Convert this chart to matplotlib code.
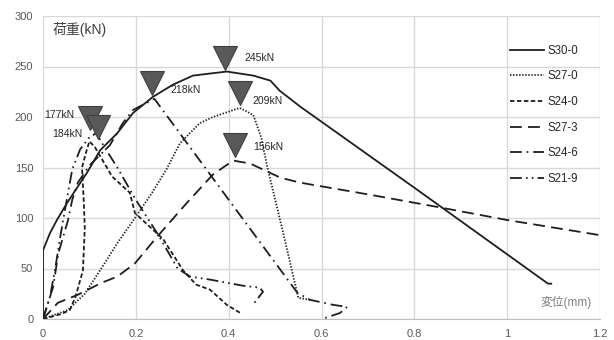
import matplotlib
matplotlib.use('Agg')
import matplotlib.pyplot as plt

plt.rcParams['font.family'] = ['Liberation Sans', 'Noto Sans CJK JP', 'DejaVu Sans']
plt.rcParams['lines.scale_dashes'] = False

# 荷重-変位 曲線 (変位 mm, 荷重 kN)
s30_0_x = [0, 0, 0.015, 0.03, 0.052, 0.095, 0.123, 0.16, 0.194, 0.237, 0.28, 0.323, 0.396,
           0.453, 0.49, 0.51, 0.555, 0.8, 1.088, 1.095]
s30_0_y = [0, 68, 85, 98, 115, 145, 167, 184, 204, 220, 232, 241, 245,
           241, 236, 226, 210, 130, 35, 35]

s27_0_x = [0, 0.03, 0.054, 0.09, 0.127, 0.16, 0.198, 0.235, 0.267, 0.295, 0.338, 0.366, 0.424,
           0.453, 0.47, 0.483, 0.515, 0.55, 0.575]
s27_0_y = [0, 5, 9, 25, 51, 75, 100, 125, 149, 174, 194, 200, 209,
           202, 180, 151, 90, 21, 19]

s24_0_x = [0, 0.04, 0.058, 0.07, 0.086, 0.09, 0.088, 0.084, 0.094, 0.10, 0.112, 0.149, 0.187,
           0.198, 0.259, 0.302, 0.33, 0.36, 0.396, 0.425]
s24_0_y = [0, 5, 9, 22, 48, 90, 115, 150, 167, 176, 170, 141, 125,
           105, 79, 48, 34, 29, 14, 6]

s27_3_x = [0, 0.032, 0.075, 0.127, 0.16, 0.198, 0.245, 0.31, 0.366, 0.41, 0.42, 0.446,
           0.511, 0.554, 0.705, 0.849, 1.0, 1.2]
s27_3_y = [0, 16, 24, 36, 42, 55, 81, 115, 143, 157, 156, 154,
           140, 135, 123, 111, 98, 83]

s24_6_x = [0, 0.022, 0.033, 0.054, 0.063, 0.075, 0.1, 0.144, 0.172, 0.194, 0.24,
           0.381, 0.474, 0.548, 0.575, 0.625, 0.655, 0.64, 0.608]
s24_6_y = [0, 32, 65, 98, 118, 135, 152, 172, 194, 207, 218,
           130, 72, 26, 19, 14, 12, 6, 1]

s21_9_x = [0, 0.015, 0.026, 0.037, 0.05, 0.063, 0.08, 0.1, 0.115, 0.13, 0.16, 0.2, 0.25,
           0.29, 0.317, 0.36, 0.43, 0.467, 0.474, 0.452]
s21_9_y = [0, 22, 49, 81, 115, 148, 168, 180, 184, 172, 150, 118, 82,
           50, 42, 39, 33, 31, 27, 14]

# 最大荷重マーカー
mk_x = [0.392, 0.235, 0.424, 0.414, 0.101, 0.118]
mk_y = [258, 234, 224, 172, 199, 190]
mk_labels = ['245kN', '218kN', '209kN', '156kN', '177kN', '184kN']

xticks = [0, 0.2, 0.4, 0.6, 0.8, 1, 1.2]
xtick_labels = ['0', '0.2', '0.4', '0.6', '0.8', '1', '1.2']
yticks = [0, 50, 100, 150, 200, 250, 300]

LC = '#1e1e1e'
LW = 1.3

fig = plt.figure(figsize=(6.14, 3.40), dpi=100)
ax = fig.add_axes([43 / 614, 1 - 319 / 340, 557 / 614, 303 / 340])

ax.plot(s30_0_x, s30_0_y, color=LC, lw=LW, ls='-', label='S30-0')
ax.plot(s27_0_x, s27_0_y, color=LC, lw=LW, dashes=(1.0, 1.2), label='S27-0')
ax.plot(s24_0_x, s24_0_y, color=LC, lw=LW, dashes=(3.2, 1.8), label='S24-0')
ax.plot(s27_3_x, s27_3_y, color=LC, lw=LW, dashes=(8.5, 4.5), label='S27-3')
ax.plot(s24_6_x, s24_6_y, color=LC, lw=LW, dashes=(8.5, 3.5, 1.2, 3.5), label='S24-6')
ax.plot(s21_9_x, s21_9_y, color=LC, lw=LW, dashes=(8.5, 3, 1.2, 3, 1.2, 3), label='S21-9')

ax.plot(mk_x, mk_y, ls='none', marker='v', ms=17, color='#595959',
        markeredgecolor='#3f3f3f', mew=0.8, zorder=5)
offsets = [(14, 0), (13, -5), (9, -6), (13, -1), (-11, 2), (-11, -5)]
for x, y, t, off in zip(mk_x, mk_y, mk_labels, offsets):
    ax.annotate(t, (x, y), xytext=off, textcoords='offset points',
                ha='left' if off[0] > 0 else 'right', va='center',
                fontsize=7.5, color='#262626', zorder=6)

ax.set_xlim(0, 1.2)
ax.set_ylim(0, 300)
ax.set_xticks(xticks)
ax.set_xticklabels(xtick_labels)
ax.set_yticks(yticks)
ax.grid(True, color='#d9d9d9', lw=1.0)
ax.set_axisbelow(True)
for s in ax.spines.values():
    s.set_visible(False)
ax.spines['bottom'].set_visible(True)
ax.spines['bottom'].set_color('#bfbfbf')
ax.tick_params(length=0, labelsize=8, labelcolor='#595959', pad=7)

ax.text(0.017, 0.955, '荷重(kN)', transform=ax.transAxes, fontsize=10,
        color='#404040', ha='left', va='center')
ax.text(0.985, 0.055, '変位(mm)', transform=ax.transAxes, fontsize=8.5,
        color='#808080', ha='right', va='center')

ax.legend(loc='upper left', bbox_to_anchor=(504 / 614, 1 - 39 / 340),
          bbox_transform=fig.transFigure, frameon=False, fontsize=8.3,
          handlelength=3.0, handletextpad=0.3, labelspacing=1.18,
          borderpad=0, labelcolor='#262626')

fig.savefig('out.png', dpi=100)
